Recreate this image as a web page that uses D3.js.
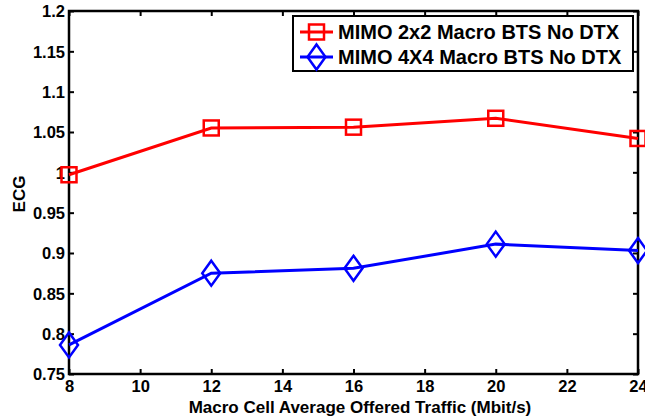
<!DOCTYPE html>
<html><head><meta charset="utf-8">
<script src="https://cdn.jsdelivr.net/npm/d3@7"></script>
<style>
body{margin:0;background:#fff;}
svg{display:block;}
text{font-family:"Liberation Sans",Arial,Helvetica,sans-serif;font-weight:bold;fill:#000;}
</style></head>
<body><div id="chart"></div>
<script>
const traffic = [8, 12, 16, 20, 24];
const mimo2x2 = [0.997, 1.055, 1.056, 1.067, 1.042];
const mimo4x4 = [0.786, 0.875, 0.881, 0.911, 0.903];
const seriesNames = ["MIMO 2x2 Macro BTS No DTX", "MIMO 4X4 Macro BTS No DTX"];
const xTicks = [8, 10, 12, 14, 16, 18, 20, 22, 24];
const yTicks = [0.75, 0.8, 0.85, 0.9, 0.95, 1, 1.05, 1.1, 1.15, 1.2];
const xLabel = "Macro Cell Average Offered Traffic (Mbit/s)";
const yLabel = "ECG";

const W = 645, H = 419;
const m = {left: 69, right: 7, top: 11, bottom: 45};
const svg = d3.select("#chart").append("svg").attr("width", W).attr("height", H);
const x = d3.scaleLinear().domain([8, 24]).range([m.left, W - m.right]);
const y = d3.scaleLinear().domain([0.75, 1.2]).range([H - m.bottom, m.top]);

const tickLen = 5;
const fmt = d => String(+d.toFixed(2));
// axes
const gx = svg.append("g").attr("transform", `translate(0,${y(0.75)})`)
  .call(d3.axisBottom(x).tickValues(xTicks).tickFormat(fmt).tickSize(-tickLen).tickPadding(6));
const gy = svg.append("g").attr("transform", `translate(${x(8)},0)`)
  .call(d3.axisLeft(y).tickValues(yTicks).tickFormat(fmt).tickSize(-tickLen).tickPadding(4));
const gxt = svg.append("g").attr("transform", `translate(0,${y(1.2)})`)
  .call(d3.axisTop(x).tickValues(xTicks).tickFormat("").tickSize(-tickLen));
const gyr = svg.append("g").attr("transform", `translate(${x(24)},0)`)
  .call(d3.axisRight(y).tickValues(yTicks).tickFormat("").tickSize(-tickLen));
[gx, gy, gxt, gyr].forEach(g => {
  g.select(".domain").remove();
  g.selectAll(".tick line").attr("stroke", "#000").attr("stroke-width", 2);
  g.selectAll("text").style("font-size", "16.5px").style("font-family", "'Liberation Sans',Arial,sans-serif").style("font-weight", "bold").attr("fill", "#000");
});
gx.selectAll("text").attr("dy", "0.71em");
gy.selectAll("text").attr("dy", "0.36em");
svg.append("rect").attr("x", x(8)).attr("y", y(1.2)).attr("width", x(24) - x(8)).attr("height", y(0.75) - y(1.2))
  .attr("fill", "none").attr("stroke", "#000").attr("stroke-width", 2.5);

// axis labels
svg.append("text").attr("x", 360).attr("y", 413).attr("text-anchor", "middle")
  .style("font-size", "17px").text(xLabel);
svg.append("text").attr("transform", `translate(25,${194}) rotate(-90)`).attr("text-anchor", "middle")
  .style("font-size", "17px").text(yLabel);

const line = d3.line().x((d, i) => x(traffic[i])).y(d => y(d));
const colors = ["#ff0000", "#0000ff"];
const data = [mimo2x2, mimo4x4];
const sq = 15, dw = 18, dh = 25;
function square(g, cx, cy, c) {
  g.append("rect").attr("x", cx - sq/2).attr("y", cy - sq/2).attr("width", sq).attr("height", sq)
   .attr("fill", "none").attr("stroke", c).attr("stroke-width", 2.5);
}
function diamond(g, cx, cy, c) {
  g.append("path").attr("d", `M${cx},${cy-dh/2}L${cx+dw/2},${cy}L${cx},${cy+dh/2}L${cx-dw/2},${cy}Z`)
   .attr("fill", "none").attr("stroke", c).attr("stroke-width", 2.5);
}
const markers = [square, diamond];
data.forEach((s, k) => {
  svg.append("path").datum(s).attr("d", line).attr("fill", "none").attr("stroke", colors[k]).attr("stroke-width", 3);
  const g = svg.append("g");
  s.forEach((v, i) => markers[k](g, x(traffic[i]), y(v), colors[k]));
});

// legend
const lg = svg.append("g");
lg.append("rect").attr("x", 293).attr("y", 16).attr("width", 340).attr("height", 55)
  .attr("fill", "#fff").attr("stroke", "#000").attr("stroke-width", 2);
seriesNames.forEach((n, k) => {
  const ly = 32 + k * 25;
  lg.append("line").attr("x1", 300).attr("x2", 333).attr("y1", ly).attr("y2", ly).attr("stroke", colors[k]).attr("stroke-width", 3);
  markers[k](lg, 316.5, ly, colors[k]);
  lg.append("text").attr("x", 338).attr("y", ly).attr("dy", "0.36em").style("font-size", "20px").text(n);
});
</script></body></html>
